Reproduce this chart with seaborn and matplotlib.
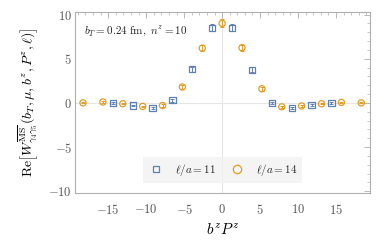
import numpy as np
import pandas as pd
import matplotlib
matplotlib.use("Agg")
import matplotlib.pyplot as plt
import seaborn as sns
from matplotlib.ticker import MultipleLocator, FuncFormatter
from matplotlib.lines import Line2D

# data
x_11 = [-14.40, -11.78, -9.16, -6.54, -3.93, -1.31, 1.31, 3.93, 6.54, 9.16, 11.78, 14.40]
y_11 = [0.00, -0.30, -0.55, 0.30, 3.80, 8.50, 8.50, 3.75, 0.00, -0.60, -0.25, 0.00]
e_11 = [0.08, 0.10, 0.12, 0.15, 0.30, 0.40, 0.40, 0.30, 0.15, 0.12, 0.10, 0.08]

x_14 = [-18.33, -15.71, -13.09, -10.47, -7.85, -5.24, -2.62, 0.00,
        2.62, 5.24, 7.85, 10.47, 13.09, 15.71, 18.33]
y_14 = [0.00, 0.10, -0.10, -0.40, -0.30, 1.80, 6.20, 9.00,
        6.25, 1.60, -0.45, -0.35, -0.10, 0.05, 0.00]
e_14 = [0.05, 0.06, 0.08, 0.10, 0.15, 0.25, 0.35, 0.45,
        0.35, 0.25, 0.15, 0.10, 0.08, 0.06, 0.05]

labels = [r"$\ell/a = 11$", r"$\ell/a = 14$"]
blue = "#5E81B5"
orange = "#E19C24"

df = pd.concat([
    pd.DataFrame({"x": x_11, "y": y_11, "err": e_11, "set": labels[0]}),
    pd.DataFrame({"x": x_14, "y": y_14, "err": e_14, "set": labels[1]}),
])

sns.set_theme(style="white")
plt.rcParams["mathtext.fontset"] = "cm"
plt.rcParams["font.family"] = ["DejaVu Serif"]

fig = plt.figure(figsize=(3.82, 2.43), dpi=100)
ax = fig.add_axes([0.196, 0.206, 0.773, 0.745])

ax.axhline(0, color="#e6e6e6", lw=0.8, zorder=0)
ax.axvline(0, color="#e6e6e6", lw=0.8, zorder=0)

for lab, col in zip(labels, [blue, orange]):
    d = df[df["set"] == lab]
    ax.errorbar(d["x"], d["y"], yerr=d["err"], fmt="none", ecolor=col,
                elinewidth=0.7, capsize=1.5, capthick=0.7, zorder=2)

sns.scatterplot(data=df, x="x", y="y", hue="set", style="set",
                markers={labels[0]: "s", labels[1]: "o"},
                palette={labels[0]: blue, labels[1]: orange},
                s=20, linewidth=0.9, legend=False, ax=ax, zorder=3)
# open markers
for coll in ax.collections:
    fc = coll.get_facecolors()
    if len(fc):
        coll.set_edgecolors(fc)
        coll.set_facecolors("none")

ax.set_xlim(-19.4, 19.5)
ax.set_ylim(-10.2, 10.3)
ax.xaxis.set_major_locator(MultipleLocator(5))
ax.xaxis.set_minor_locator(MultipleLocator(1))
ax.yaxis.set_major_locator(MultipleLocator(5))
ax.yaxis.set_minor_locator(MultipleLocator(1))
fmt = FuncFormatter(lambda v, p: f"${v:g}$")
ax.xaxis.set_major_formatter(fmt)
ax.yaxis.set_major_formatter(fmt)
ax.tick_params(which="both", direction="in", top=True, right=True,
               color="#b0b0b0", labelcolor="#555555", labelsize=9)
ax.tick_params(which="major", length=4, width=0.6)
ax.tick_params(which="minor", length=2, width=0.5)
ax.tick_params(axis="x", which="major", pad=7)
ax.tick_params(axis="y", which="major", pad=2)
for s in ax.spines.values():
    s.set_color("#b0b0b0")
    s.set_linewidth(0.8)

ax.set_xlabel(r"$b^z P^z$", fontsize=11, color="black", labelpad=4)
ax.set_ylabel(r"$\mathrm{Re}\left[W^{\overline{\mathrm{MS}}}_{\gamma_4\gamma_5}(b_T,\mu,b^z,P^z,\ell)\right]$",
              fontsize=10, color="black", labelpad=5)

ax.text(0.03, 0.93, r"$b_T = 0.24\ \mathrm{fm},\ n^z = 10$", transform=ax.transAxes,
        fontsize=8, va="top", ha="left", color="#222222")

handles = [
    Line2D([], [], marker="s", ls="none", mfc="none", mec=blue, ms=4, mew=0.9),
    Line2D([], [], marker="o", ls="none", mfc="none", mec=orange, ms=6, mew=0.9),
]
leg = ax.legend(handles, labels, loc="lower center", ncol=2, frameon=True,
                fancybox=False, fontsize=8, bbox_to_anchor=(0.5, 0.025),
                handletextpad=0.9, columnspacing=1.2, borderpad=0.45,
                handlelength=1.5)
leg.get_frame().set_facecolor("#f2f2f2")
leg.get_frame().set_edgecolor("none")

fig.savefig("out.png", dpi=100)
